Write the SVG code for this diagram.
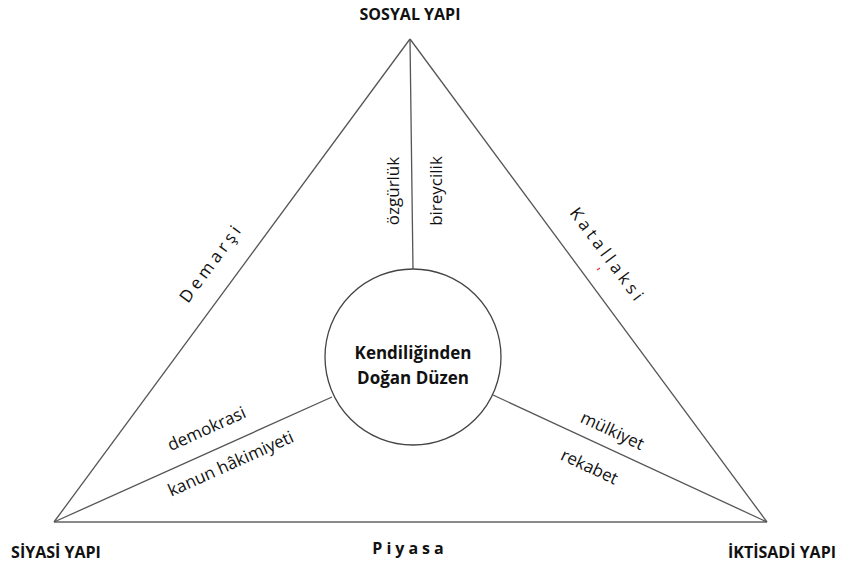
<svg xmlns="http://www.w3.org/2000/svg" width="844" height="564" viewBox="0 0 844 564">
<style>
.ln{stroke:#555;stroke-width:1.3;fill:none}
.bl{stroke:#8a8a8a;stroke-width:2.2;fill:none}
.t{font-family:"Open Sans","Liberation Sans",sans-serif;font-size:17px;fill:#111}
.b{font-family:"Open Sans","Liberation Sans",sans-serif;font-weight:bold;font-size:16px;fill:#111}
</style>
<rect width="844" height="564" fill="#fff"/>
<g id="connectors">
<line class="ln" x1="410" y1="39" x2="54" y2="522"/>
<line class="ln" x1="410" y1="39" x2="767" y2="522"/>
<line class="bl" x1="54" y1="522" x2="767" y2="522"/>
<line class="ln" x1="410" y1="39" x2="413" y2="270"/>
<line class="ln" x1="332" y1="397" x2="54" y2="522"/>
<line class="ln" x1="493" y1="395" x2="767" y2="522"/>
</g>
<g id="center">
<circle cx="413" cy="357" r="88" fill="#fff" stroke="#444" stroke-width="1.3"/>
<text class="t" x="413" y="359" text-anchor="middle" font-weight="bold" font-size="15.5">Kendiliğinden</text>
<text class="t" x="413" y="384" text-anchor="middle" font-weight="bold" font-size="15.5">Doğan Düzen</text>
</g>
<g id="sosyal">
<text class="b" x="410" y="20" text-anchor="middle">SOSYAL YAPI</text>
</g>
<g id="siyasi">
<text class="b" x="56" y="558" text-anchor="middle">SİYASİ YAPI</text>
</g>
<g id="iktisadi">
<text class="b" x="782" y="558" text-anchor="middle">İKTİSADİ YAPI</text>
</g>
<g id="labels">
<text class="b" x="410" y="554" text-anchor="middle" font-size="15" letter-spacing="4">Piyasa</text>
<text class="t" transform="translate(216,266) rotate(-53.6)" text-anchor="middle" font-size="16" letter-spacing="4">Demarşi</text>
<text class="t" transform="translate(603,259) rotate(53.5)" text-anchor="middle" font-size="16" letter-spacing="4">Katallaksi</text>
<path d="M597 270 l3 -2" stroke="#e33" stroke-width="1.4"/>
<text class="t" transform="translate(399,191) rotate(-90)" text-anchor="middle">özgürlük</text>
<text class="t" transform="translate(442,191) rotate(-90)" text-anchor="middle">bireycilik</text>
<text class="t" transform="translate(209,434) rotate(-24.2)" text-anchor="middle">demokrasi</text>
<text class="t" transform="translate(233,469) rotate(-24.2)" text-anchor="middle">kanun hâkimiyeti</text>
<text class="t" transform="translate(610,436) rotate(24.9)" text-anchor="middle">mülkiyet</text>
<text class="t" transform="translate(587,472) rotate(24.9)" text-anchor="middle">rekabet</text>
</g>
</svg>
